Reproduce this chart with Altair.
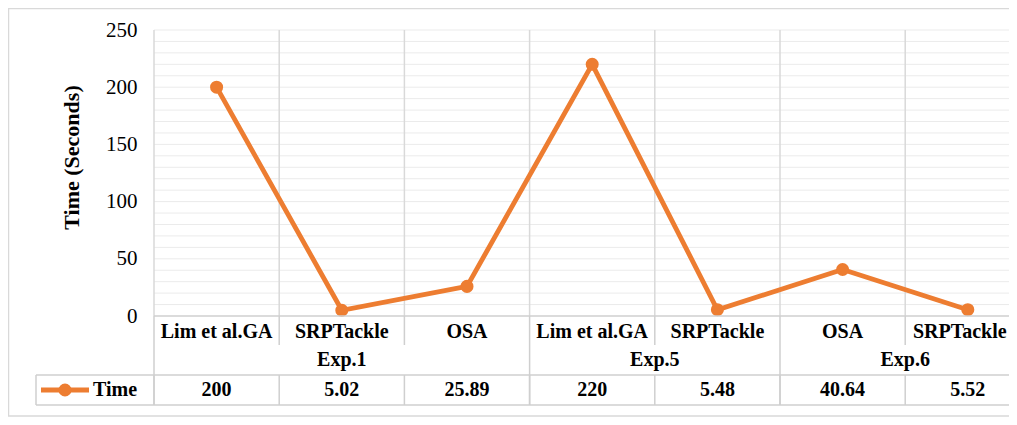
import altair as alt
import pandas as pd

# ---- data ----
categories = ["Lim et al.GA", "SRPTackle", "OSA", "Lim et al.GA", "SRPTackle", "OSA", "SRPTackle"]
times = [200, 5.02, 25.89, 220, 5.48, 40.64, 5.52]
time_labels = ["200", "5.02", "25.89", "220", "5.48", "40.64", "5.52"]
groups = ["Exp.1", "Exp.5", "Exp.6"]
group_start = [0, 3, 5]
group_end = [3, 5, 7]
y_ticks = [0, 50, 100, 150, 200, 250]
y_grid = list(range(10, 251, 10))
series_name = "Time"

# ---- layout ----
STEP = 125.2
W = 855
H = 286
ORANGE = "#ED7D31"
LINE_GRAY = "#CFCFCF"
FONT = "Liberation Serif"

pos = [i + 0.5 for i in range(len(categories))]
df = pd.DataFrame({"idx": list(range(len(categories))), "pos": pos, "cat": categories,
                   "time": times, "lab": time_labels})
gdf = pd.DataFrame({"group": groups,
                    "gpos": [(s + e) / 2 for s, e in zip(group_start, group_end)]})
grid_df = pd.DataFrame({"time": y_grid})
bounds = list(range(len(categories) + 1))
inner = [b for b in bounds if b not in group_start + [len(categories)]]
outer = group_start + [len(categories)]
bdf_all = pd.DataFrame({"b": bounds})
bdf_inner = pd.DataFrame({"b": inner})
bdf_outer = pd.DataFrame({"b": outer})
one = pd.DataFrame({"k": [0]})
last = len(categories) - 1

xscale = alt.Scale(domain=[0, W / STEP], nice=False, zero=False)
yscale = alt.Scale(domain=[0, 250], nice=False)
X = lambda f: alt.X(f, type="quantitative", scale=xscale, axis=None)

yaxis = alt.Axis(values=y_ticks, labelOverlap=False,
                 grid=False, domain=False, ticks=False, labelPadding=17,
                 labelFont=FONT, labelFontSize=21, labelColor="#000000",
                 title="Time (Seconds)", titleFont=FONT, titleFontSize=22,
                 titleFontWeight="bold", titleColor="#000000",
                 titleAngle=-90, titleX=-83, titleY=127,
                 titleAlign="center", titleBaseline="middle")
Y = alt.Y("time:Q", scale=yscale, axis=yaxis, title="Time (Seconds)")

# horizontal gridlines (every 10)
hgrid = alt.Chart(grid_df).mark_rule(color="#EBEBEB", strokeWidth=1).encode(
    y=Y, x=alt.value(0), x2=alt.value(W + 10))

# vertical gridlines inside plot
vgrid = alt.Chart(bdf_all).mark_rule(color="#D9D9D9", strokeWidth=1.5).encode(
    x=X("b"), y=alt.value(0), y2=alt.value(H))

line = alt.Chart(df).mark_line(color=ORANGE, strokeWidth=4.8).encode(x=X("pos"), y=Y)
pts = alt.Chart(df).mark_point(filled=True, color=ORANGE, size=170, opacity=1).encode(x=X("pos"), y=Y)

# table lines
xaxis_line = alt.Chart(one).mark_rule(color=LINE_GRAY, strokeWidth=1.5).encode(
    x=alt.value(0), x2=alt.value(W + 10), y=alt.value(H))
inner_lines = alt.Chart(bdf_inner).mark_rule(color=LINE_GRAY, strokeWidth=1.5).encode(
    x=X("b"), y=alt.value(H), y2=alt.value(H + 29))
outer_lines = alt.Chart(bdf_outer).mark_rule(color=LINE_GRAY, strokeWidth=1.5).encode(
    x=X("b"), y=alt.value(H), y2=alt.value(H + 89))
data_row_lines = alt.Chart(bdf_all).mark_rule(color=LINE_GRAY, strokeWidth=1.5).encode(
    x=X("b"), y=alt.value(H + 59), y2=alt.value(H + 89))
hline1 = alt.Chart(one).mark_rule(color=LINE_GRAY, strokeWidth=1.5).encode(
    x=alt.value(-118), x2=alt.value(W + 10), y=alt.value(H + 59))
hline2 = alt.Chart(one).mark_rule(color=LINE_GRAY, strokeWidth=1.5).encode(
    x=alt.value(-118), x2=alt.value(W + 10), y=alt.value(H + 89))
leg_left = alt.Chart(one).mark_rule(color=LINE_GRAY, strokeWidth=1.5).encode(
    x=alt.value(-118), y=alt.value(H + 59), y2=alt.value(H + 89))

# table texts
txt = dict(font=FONT, fontSize=20, fontWeight="bold", color="#000000", baseline="middle", align="center")
cat_text = alt.Chart(df).transform_filter(alt.datum.idx < last).mark_text(**txt).encode(
    x=X("pos"), y=alt.value(H + 16), text="cat:N")
cat_text_last = alt.Chart(df).transform_filter(alt.datum.idx == last).mark_text(dx=-8, **txt).encode(
    x=X("pos"), y=alt.value(H + 16), text="cat:N")
grp_text = alt.Chart(gdf).mark_text(**txt).encode(x=X("gpos"), y=alt.value(H + 44), text="group:N")
val_text = alt.Chart(df).mark_text(**txt).encode(x=X("pos"), y=alt.value(H + 74), text="lab:N")

# legend key in table
leg_line = alt.Chart(one).mark_rule(color=ORANGE, strokeWidth=4.8).encode(
    x=alt.value(-113), x2=alt.value(-65), y=alt.value(H + 74))
leg_pt = alt.Chart(one).mark_point(filled=True, color=ORANGE, size=170, opacity=1, shape="circle").encode(
    x=alt.value(-89), y=alt.value(H + 74))
leg_txt = alt.Chart(pd.DataFrame({"t": [series_name]})).mark_text(
    font=FONT, fontSize=20, fontWeight="bold", color="#000000", baseline="middle", align="left").encode(
    x=alt.value(-61), y=alt.value(H + 74), text="t:N")

# outer chart border
border = alt.Chart(one).mark_rect(fill="transparent", stroke="#D9D9D9", strokeWidth=1.5).encode(
    x=alt.value(-145.5), x2=alt.value(W + 20), y=alt.value(-21.5), y2=alt.value(H + 100))

chart = alt.layer(
    border, hgrid, vgrid, line, pts, xaxis_line, inner_lines, outer_lines, data_row_lines,
    hline1, hline2, leg_left, cat_text, cat_text_last, grp_text, val_text, leg_line, leg_pt, leg_txt
).properties(
    width=W, height=H,
    padding={"left": 146, "top": 22, "right": 0, "bottom": 101},
    autosize=alt.AutoSizeParams(type="none"),
    background="white",
).configure_view(strokeWidth=0)

chart.save("out.html", embed_options={"renderer": "svg", "actions": False})
